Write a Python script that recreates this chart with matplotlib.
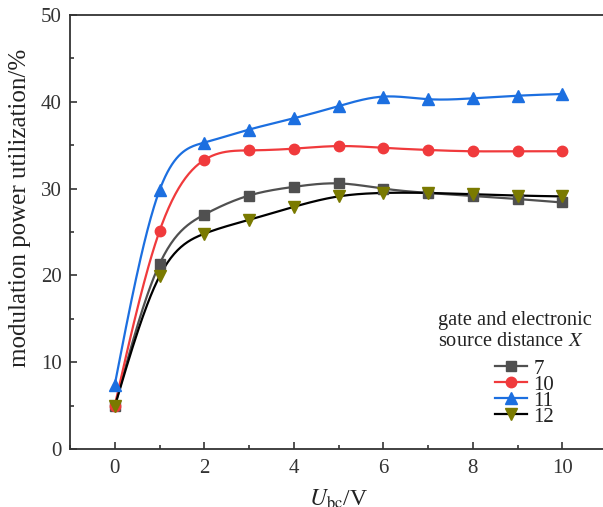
import numpy as np
import matplotlib
matplotlib.use("Agg")
import matplotlib.pyplot as plt
from matplotlib.ticker import MultipleLocator

plt.rcParams['font.family'] = ['Liberation Serif', 'DejaVu Serif']
plt.rcParams['mathtext.fontset'] = 'stix'

x = [0, 1, 2, 3, 4, 5, 6, 7, 8, 9, 10]
labels = ['7', '10', '11', '12']
legend_title = 'gate and electronic\nsource distance $X$'
s7 = [4.9, 21.3, 27.0, 29.2, 30.2, 30.6, 30.0, 29.5, 29.15, 28.8, 28.4]
s10 = [5.0, 25.1, 33.3, 34.4, 34.6, 34.9, 34.7, 34.45, 34.3, 34.3, 34.3]
s11 = [7.4, 29.8, 35.3, 36.8, 38.1, 39.5, 40.6, 40.3, 40.4, 40.7, 40.9]
s12 = [4.9, 19.9, 24.8, 26.4, 27.9, 29.1, 29.5, 29.5, 29.35, 29.2, 29.1]

def spline(xs, ys, n=400):
    xs = np.asarray(xs, float); ys = np.asarray(ys, float)
    m = len(xs)
    h = np.diff(xs)
    A = np.zeros((m, m)); b = np.zeros(m)
    A[0, 0] = 1; A[-1, -1] = 1
    for i in range(1, m - 1):
        A[i, i - 1] = h[i - 1]; A[i, i] = 2 * (h[i - 1] + h[i]); A[i, i + 1] = h[i]
        b[i] = 3 * ((ys[i + 1] - ys[i]) / h[i] - (ys[i] - ys[i - 1]) / h[i - 1])
    c = np.linalg.solve(A, b)
    xx = np.linspace(xs[0], xs[-1], n)
    yy = np.empty_like(xx)
    for k, t in enumerate(xx):
        i = min(np.searchsorted(xs, t, side='right') - 1, m - 2)
        d = t - xs[i]
        bi = (ys[i + 1] - ys[i]) / h[i] - h[i] * (2 * c[i] + c[i + 1]) / 3
        di = (c[i + 1] - c[i]) / (3 * h[i])
        yy[k] = ys[i] + bi * d + c[i] * d ** 2 + di * d ** 3
    return xx, yy

fig = plt.figure(figsize=(6.03, 5.07), dpi=100)
ax = fig.add_axes([70 / 603, 1 - 449 / 507, (607 - 70) / 603, (449 - 15) / 507])

styles = [
    (s7, '#505050', '#505050', 's', 7),
    (s10, '#f03a3c', '#f03a3c', 'o', 7.5),
    (s11, '#1c6fe0', '#1c6fe0', '^', 8),
    (s12, '#000000', '#7a7a00', 'v', 8),
]
handles = []
for (ys, lc, mc, mk, ms), lab in zip(styles, labels):
    xx, yy = spline(x, ys)
    ax.plot(xx, yy, color=lc, lw=1.6, zorder=2)
    ax.plot(x, ys, ls='none', marker=mk, color=mc, ms=ms, zorder=3)
    h, = ax.plot([], [], color=lc, lw=1.6, marker=mk, mfc=mc, mec=mc, ms=ms, label=lab)
    handles.append(h)

ax.set_xlim(-1, 11)
ax.set_ylim(0, 50)
ax.xaxis.set_major_locator(MultipleLocator(2))
ax.xaxis.set_minor_locator(MultipleLocator(1))
ax.yaxis.set_major_locator(MultipleLocator(10))
ax.yaxis.set_minor_locator(MultipleLocator(5))
ax.tick_params(which='both', direction='in', labelsize=15, colors='#333333', width=1.2)
ax.tick_params(which='major', length=5)
ax.tick_params(which='minor', length=3)
ax.tick_params(axis='x', pad=7)
ax.tick_params(axis='y', pad=6)
for sp in ax.spines.values():
    sp.set_color('#333333'); sp.set_linewidth(1.3)

ax.set_ylabel('modulation power utilization/%', fontsize=18, color='#222222')
ax.yaxis.set_label_coords(-0.072, (449 - 208) / 434)
ax.set_xlabel(r'$U_{\rm bc}$/V', fontsize=17, color='#222222', labelpad=7)

fig.text(438 / 603, 1 - 311 / 507, legend_title, ha='left', va='top',
         fontsize=14.7, linespacing=1.15, color='#222222')

leg = ax.legend(handles=handles, loc='upper left',
                bbox_to_anchor=(495 / 603, 1 - 359 / 507),
                bbox_transform=fig.transFigure, frameon=False,
                fontsize=15, handlelength=1.55, handletextpad=0.3,
                labelspacing=-0.17, borderpad=0.0, borderaxespad=0.0)
for t in leg.get_texts():
    t.set_color('#222222')

fig.savefig('out.png', dpi=100)
